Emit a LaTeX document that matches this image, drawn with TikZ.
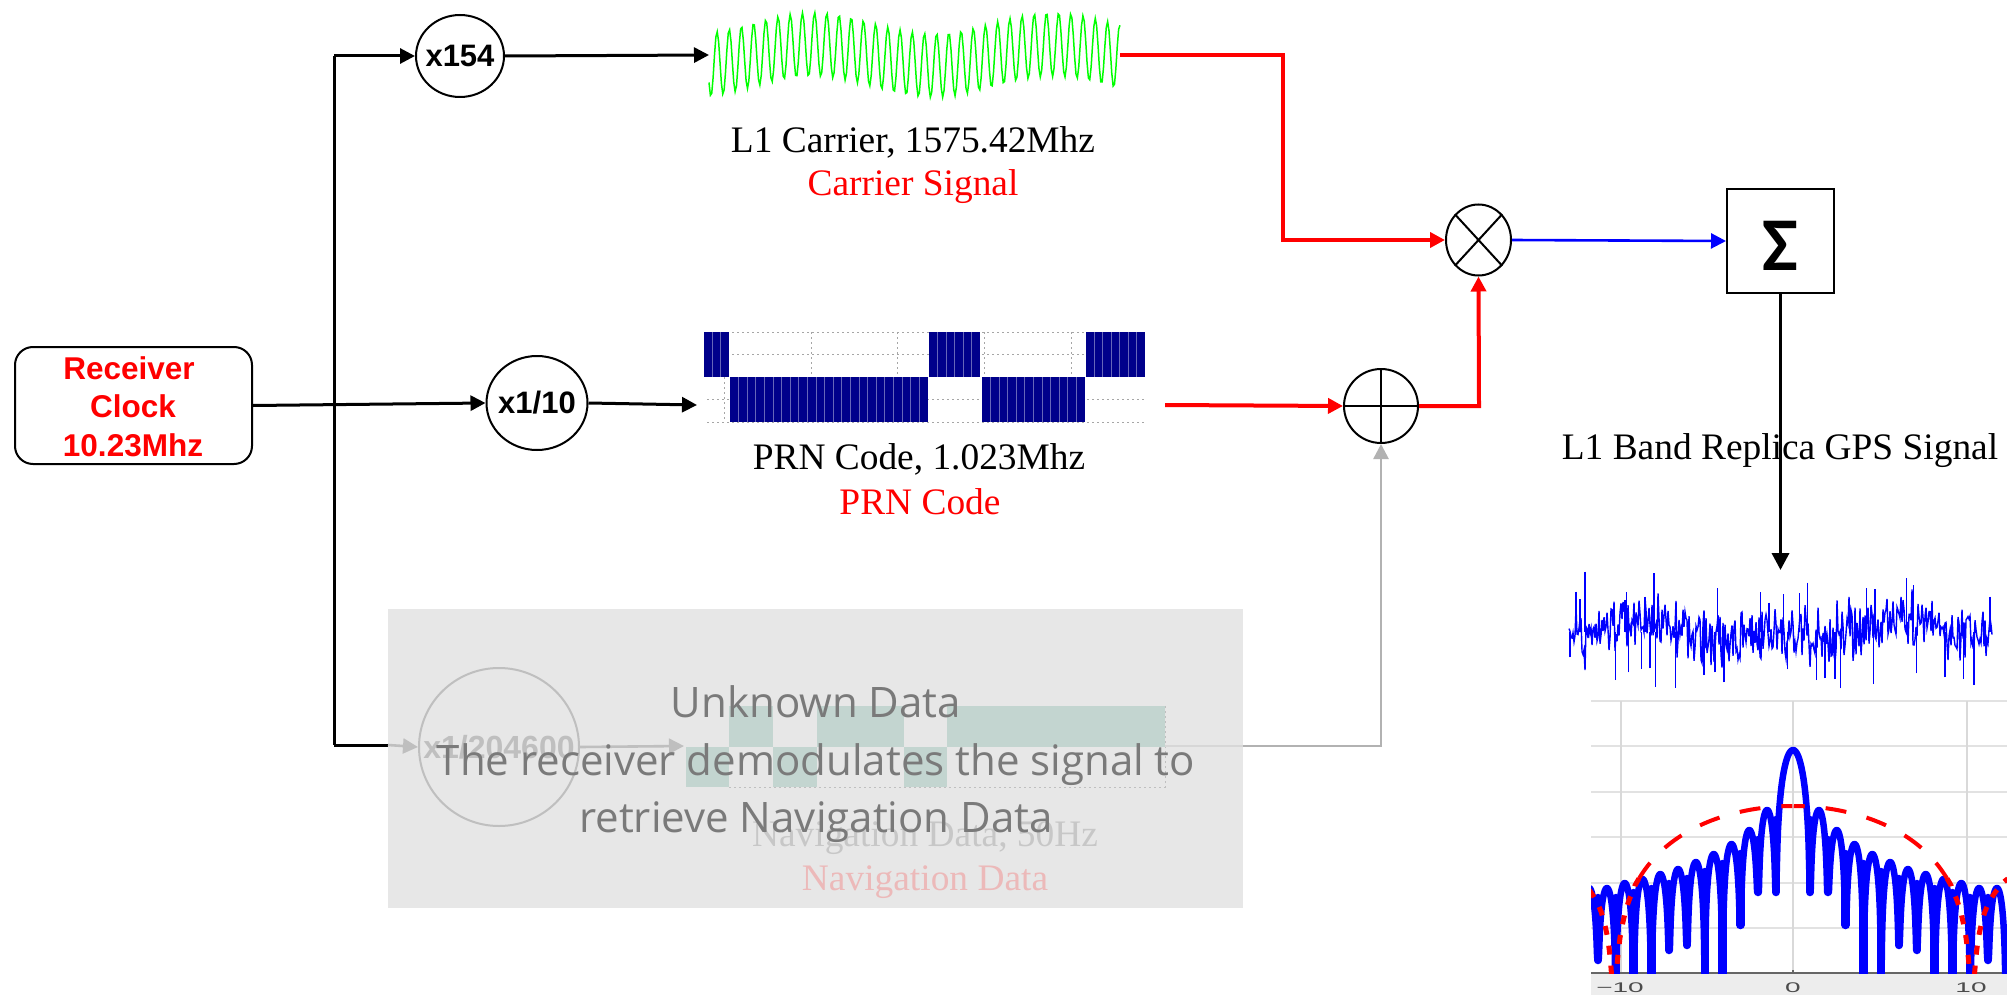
\documentclass[tikz,border=0pt]{standalone}
\usepackage{fontspec}
\setmainfont{Liberation Serif}
\setsansfont{Liberation Sans}
\newfontfamily\overlayfont{Open Sans}
\newfontfamily\sigmafont{Carlito}
\usetikzlibrary{arrows.meta,shapes.geometric}
\definecolor{navybar}{RGB}{0,0,139}
\definecolor{navsig}{RGB}{195,213,208}
\definecolor{veil}{RGB}{231,231,231}
\definecolor{fadeline}{RGB}{191,191,191}
\definecolor{overtext}{RGB}{122,122,122}
\definecolor{gridc}{RGB}{226,226,226}
\tikzset{
  x=1pt,y=-1pt,
  tip/.style={-{Triangle[length=#1,width=#1]}},
  wire/.style={draw=black,line width=3pt,tip=15pt},
  redwire/.style={draw=red,line width=4pt,tip=15pt},
  bluewire/.style={draw=blue,line width=2.6pt,tip=15pt},
  fadewire/.style={draw=fadeline,line width=2.6pt,tip=15pt},
  oper/.style={ellipse,draw=black,line width=2pt,inner sep=0pt},
  boldlab/.style={inner sep=0pt,font=\sffamily\bfseries\fontsize{31}{34}\selectfont,text=black},
  serif/.style={anchor=base,inner sep=0pt,font=\fontsize{37.4}{40}\selectfont},
  over/.style={anchor=base,inner sep=0pt,text=overtext,font=\overlayfont\fontsize{42}{46}\selectfont},
  clockline/.style={anchor=base,inner sep=0pt,text=red,font=\sffamily\bfseries\fontsize{31.5}{34}\selectfont},
  gridline/.style={draw=gray!70,line width=1pt,dash pattern=on 1.5pt off 3.5pt},
  tick/.style={anchor=base,inner sep=0pt,text=black!70,xscale=2,transform shape,font=\sffamily\fontsize{14}{16}\selectfont},
}
\begin{document}
\begin{tikzpicture}
\useasboundingbox (0,0) rectangle (2007,995);

% ---------- veil and faded navigation branch
\fill[veil] (388,609) rectangle (1243,908);
\foreach \a/\b in {729/773,817/904,947/1165} \fill[navsig] (\a,706) rectangle (\b,747);
\foreach \a/\b in {686/729,773/817,904/947} \fill[navsig] (\a,747) rectangle (\b,787);
\draw[draw=fadeline,line width=.8pt,dash pattern=on 2pt off 3pt] (729,787) -- (1165,787) -- (1165,706);

% ---------- operators
\node[rounded corners=18pt,draw=black,line width=2pt,minimum width=237pt,minimum height=117pt,inner sep=0pt] (clock) at (133.5,405.5) {};
\node[clockline] (clockA) at (129,379) {Receiver};
\node[clockline] (clockB) at (133,417.5) {Clock};
\node[clockline] (clockC) at (133,456) {10.23Mhz};

\node[oper,minimum width=88pt,minimum height=82pt] (x154) at (460,56) {};
\node[boldlab] (x154t) at (460,56) {x154};
\node[oper,minimum width=101pt,minimum height=94pt] (div10) at (537,403) {};
\node[boldlab] (div10t) at (537,403) {x1/10};
\node[ellipse,draw=fadeline,line width=2pt,inner sep=0pt,minimum width=160pt,minimum height=158pt] (divnav) at (499,747) {};
\node[inner sep=0pt,text=fadeline,font=\sffamily\bfseries\fontsize{32}{34}\selectfont] (divnavt) at (499,747) {x1/204600};

\node[oper,minimum width=65pt,minimum height=71pt] (mul) at (1478.5,240) {};
\draw[line width=2pt] (mul.north west) -- (mul.south east) (mul.north east) -- (mul.south west);
\node[oper,minimum width=74pt,minimum height=74pt] (add) at (1381,406) {};
\draw[line width=2pt] (add.north) -- (add.south) (add.west) -- (add.east);
\node[draw=black,line width=2pt,minimum width=107pt,minimum height=104pt,inner sep=0pt] (sum) at (1780.5,241) {};
\node[inner sep=0pt,font=\sigmafont\bfseries\fontsize{76}{76}\selectfont] (sigma) at (1780,246) {Σ};

% ---------- waveform end points
\coordinate (carL) at (709,55);
\coordinate (carR) at (1120,55);
\coordinate (prnL) at (697,405);
\coordinate (prnR) at (1165,405);
\coordinate (navL) at (684,746);
\coordinate (navR) at (1165,746);
\coordinate (veilR) at (1243,746);
\coordinate (trunkT) at (334,56);
\coordinate (trunkB) at (334,745);
\coordinate (veilL) at (388,745);
\coordinate (bendA) at (1283,55);
\coordinate (bendB) at (1479,406);
\coordinate (noiseTop) at (1780.5,570);

% ---------- carrier wave
\draw[draw=green,line width=1.5pt,line join=miter]
  plot[domain=0:411,samples=300,shift={(709,0)}]
  (\x,{55-32*sin(29.5*\x-146)-10.5*cos(1.5*(\x-104))});

% ---------- PRN code
\foreach \yy in {332,354,399,422} \draw[gridline] (707,\yy) -- (1146,\yy);
\foreach \xx in {724,811,897,984,1071} \draw[gridline] (\xx,332) -- (\xx,422);
\foreach \a/\b/\t/\n in {704/729/332/3,730/928/377/23,929/980/332/6,982/1085/377/12,1086/1145/332/7}{
  \fill[navybar] (\a,\t) rectangle (\b,\t+45);
  \pgfmathsetmacro{\wd}{(\b-\a)/\n}
  \foreach \i in {1,...,\n}{
    \ifnum\i<\n
      \draw[draw=white,opacity=.4,line width=1pt] ({\a+\i*\wd},\t) -- ({\a+\i*\wd},\t+45);
    \fi
  }
}

% ---------- connectors
\draw[draw=black,line width=3pt] (trunkT) -- (trunkB);
\draw[wire] (clock.east) -- (div10.west);
\draw[wire] (trunkT) -- (x154.west);
\draw[wire] (x154.east) -- (carL);
\draw[wire] (div10.east) -- (prnL);
\draw[draw=black,line width=3pt] (trunkB) -- (veilL);
\draw[fadewire] (veilL) -- (divnav.west);
\draw[fadewire] (divnav.east) -- (navL);
\draw[draw=veil!85!gray,line width=2.6pt] (navR) -- (veilR);
\draw[draw=gray!60,line width=2.6pt,tip=15pt] (veilR) -| (add.south);
\draw[redwire] (carR) -- (bendA) |- (mul.west);
\draw[redwire] (prnR) -- (add.west);
\draw[redwire] (add.east) -- (bendB) -- (mul.south);
\draw[bluewire] (mul.east) -- (sum.west);
\draw[draw=black,line width=3.6pt,tip=17pt] (sum.south) -- (noiseTop);

% ---------- labels
\node[serif] (l1a) at (913,153) {L1 Carrier, 1575.42Mhz};
\node[serif,text=red] (l1b) at (913,196) {Carrier Signal};
\node[serif] (pa) at (919,469) {PRN Code, 1.023Mhz};
\node[serif,text=red] (pb) at (920,514) {PRN Code};
\node[serif] (rep) at (1780,459) {L1 Band Replica GPS Signal};
\node[serif,text=black!22] (na) at (925,846) {Navigation Data, 50Hz};
\node[serif,text=red!20!veil] (nb) at (925,890) {Navigation Data};
\node[over] (o1) at (816,717) {Unknown Data};
\node[over] (o2) at (816,775) {The receiver demodulates the signal to};
\node[over] (o3) at (816,832) {retrieve Navigation Data};

% ---------- noisy signal
\pgfmathsetseed{2718}
\begin{scope}[draw=blue,line width=1.4pt]
\draw plot[domain=0:423,samples=424,shift={(1569,0)}]
  (\x,{632+7*sin(1.3*\x+200)+6*sin(2.9*\x+40)+(rand*abs(rand)*20+rand*22)});
\foreach \a/\b in {105/35,312/40,78/95,90/118,225/120,230/97,285/110,503/85,632/97,657/128,700/103,748/100,772/68,950/85,975/87,1070/55,1090/75,1320/110,
  316/380,376/383,197/360,462/345,522/367,872/385,970/372,1272/375,1240/357,1185/352,800/360,825/355,855/357,275/327,300/325,235/337,495/337,1100/340,713/328,60/292}
  \draw ({1550+\a/3},{560+\b/3}) -- ({1550+\a/3},632);
\end{scope}

% ---------- pattern chart
\fill[black!7] (1591,973) rectangle (2007,995);
\foreach \yy in {701,746,792,837,883,928} \draw[draw=gridc,line width=1.3pt] (1591,\yy) -- (2007,\yy);
\foreach \xx in {1621,1793,1967} \draw[draw=black!15,line width=1.5pt] (\xx,701) -- (\xx,973);
\draw[draw=black!60,line width=1.3pt] (1591,973) -- (2007,973);
\draw[draw=black!60,line width=1.3pt] (1793,973) -- (1793,970);
\begin{scope}
\clip (1591,701) rectangle (2007,973);
% main lobe
\draw[draw=blue,line width=6.5pt,line cap=round,line join=round]
  plot[domain=-.985:.985,samples=60,shift={(1793,0)}]
  (17*\x,{min(892,750-4.53*20*log10(abs(sin(180*\x)/(3.14159*\x))))});
% side lobes: number/top/left bottom/right bottom
\foreach \s in {-1,1}{
 \foreach \k/\top/\dl/\dr in {
   1/810/892/892, 2/830/892/925, 3/844/925/990, 4/854/990/990,
   5/862/990/945, 6/869/945/950, 7/874/950/990, 8/879/990/990,
   9/883/990/990, 10/888/990/960, 11/888/960/990}{
  \pgfmathsetmacro{\na}{17+17.8*(\k-1)}
  \draw[draw=blue,line width=6.5pt,line cap=round,line join=round]
    plot[domain=.012:.988,samples=40,shift={(1793,0)}]
    ({\s*(\na+17.8*\x)},{min(ifthenelse(\x<.5,\dl,\dr),\top-90.6*log10(sin(180*\x)))});
  \draw[draw=blue,line width=8.5pt,line cap=round]
    ({1793+\s*\na},{\top+10}) -- ({1793+\s*\na},\dl);
 }
}
% element pattern
\foreach \s/\dsh in {-1/0,1/0}{
  \draw[draw=red,line width=4pt,dash pattern=on 21pt off 21pt,dash phase=10pt]
    plot[domain=.004:.86,samples=90,shift={(1793,0)}]
    ({\s*179*\x},{806-90.6*log10(abs(sin(180*\x)/(3.14159*\x)))});
  \draw[draw=red,line width=5pt,dash pattern=on 9pt off 11pt]
    plot[domain=.86:.995,samples=40,shift={(1793,0)}]
    ({\s*179*\x},{806-90.6*log10(abs(sin(180*\x)/(3.14159*\x)))});
  \draw[draw=red,line width=5pt,dash pattern=on 9pt off 11pt]
    plot[domain=1.005:1.2,samples=40,shift={(1793,0)}]
    ({\s*179*\x},{806-90.6*log10(abs(sin(180*\x)/(3.14159*\x)))});
}
\end{scope}
\node[tick] (t1) at (1620,992) {\textminus 10};
\node[tick] (t2) at (1793,992) {0};
\node[tick] (t3) at (1971,992) {10};
\end{tikzpicture}
\end{document}
